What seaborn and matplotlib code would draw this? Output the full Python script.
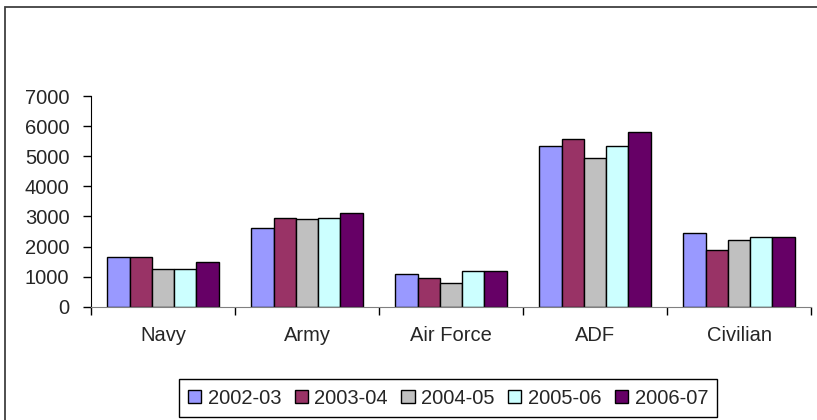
import pandas as pd
import matplotlib.pyplot as plt
import seaborn as sns
from matplotlib.patches import Rectangle
from matplotlib.ticker import FixedLocator

# values
groups = ['Navy', 'Army', 'Air Force', 'ADF', 'Civilian']
years = ['2002-03', '2003-04', '2004-05', '2005-06', '2006-07']
y2002 = [1640, 2625, 1085, 5350, 2440]
y2003 = [1645, 2955, 965, 5570, 1875]
y2004 = [1250, 2900, 800, 4950, 2215]
y2005 = [1240, 2955, 1185, 5350, 2325]
y2006 = [1475, 3125, 1185, 5795, 2325]
colors = ['#9999FF', '#993366', '#C0C0C0', '#CCFFFF', '#660066']

rows = []
for yr, vals in zip(years, [y2002, y2003, y2004, y2005, y2006]):
    for g, v in zip(groups, vals):
        rows.append({'Group': g, 'Year': yr, 'Value': v})
df = pd.DataFrame(rows)

sns.set_style('white')
plt.rcParams['font.family'] = ['Liberation Sans', 'DejaVu Sans']
plt.rcParams['font.size'] = 14.5

fig = plt.figure(figsize=(8.17, 4.2), dpi=100)
ax = fig.add_axes([91/817, 1-306.7/420, (811-91)/817, (306.7-96)/420])

sns.barplot(data=df, x='Group', y='Value', hue='Year', palette=colors,
            edgecolor='black', linewidth=1, width=0.775, saturation=1,
            ax=ax, legend=True)

ax.set_xlim(-0.5, 4.5)
ax.set_ylim(0, 7000)
ax.set_yticks(range(0, 7001, 1000))
ax.set_xlabel('')
ax.set_ylabel('')
ax.xaxis.set_minor_locator(FixedLocator([i - 0.5 for i in range(6)]))
ax.tick_params(axis='x', which='major', length=0, pad=14, labelsize=14.5)
ax.tick_params(axis='x', which='minor', length=6, width=1, direction='out',
               color='black', bottom=True)
ax.tick_params(axis='y', length=6, width=1, direction='out', color='black',
               left=True, pad=9.5, labelsize=14.5)
for s in ['top', 'right']:
    ax.spines[s].set_visible(False)
ax.spines['left'].set_color('black')
ax.spines['bottom'].set_color('#808080')

ax.legend(loc='center', bbox_to_anchor=(448/817, 1-398/420),
          bbox_transform=fig.transFigure, ncol=5, fontsize=14.5,
          frameon=True, fancybox=False, edgecolor='black', framealpha=1,
          handlelength=0.65, handleheight=0.65, handletextpad=0.33,
          columnspacing=0.67, borderpad=0.45, borderaxespad=0)
ax.get_legend().get_frame().set_linewidth(1)

# outer chart border
fig.patches.append(Rectangle((5/817, -0.5), 2, 1.5 - 7/420, fill=False,
                             edgecolor='#404040', linewidth=1.3,
                             transform=fig.transFigure))

fig.savefig('out.png', dpi=100)
